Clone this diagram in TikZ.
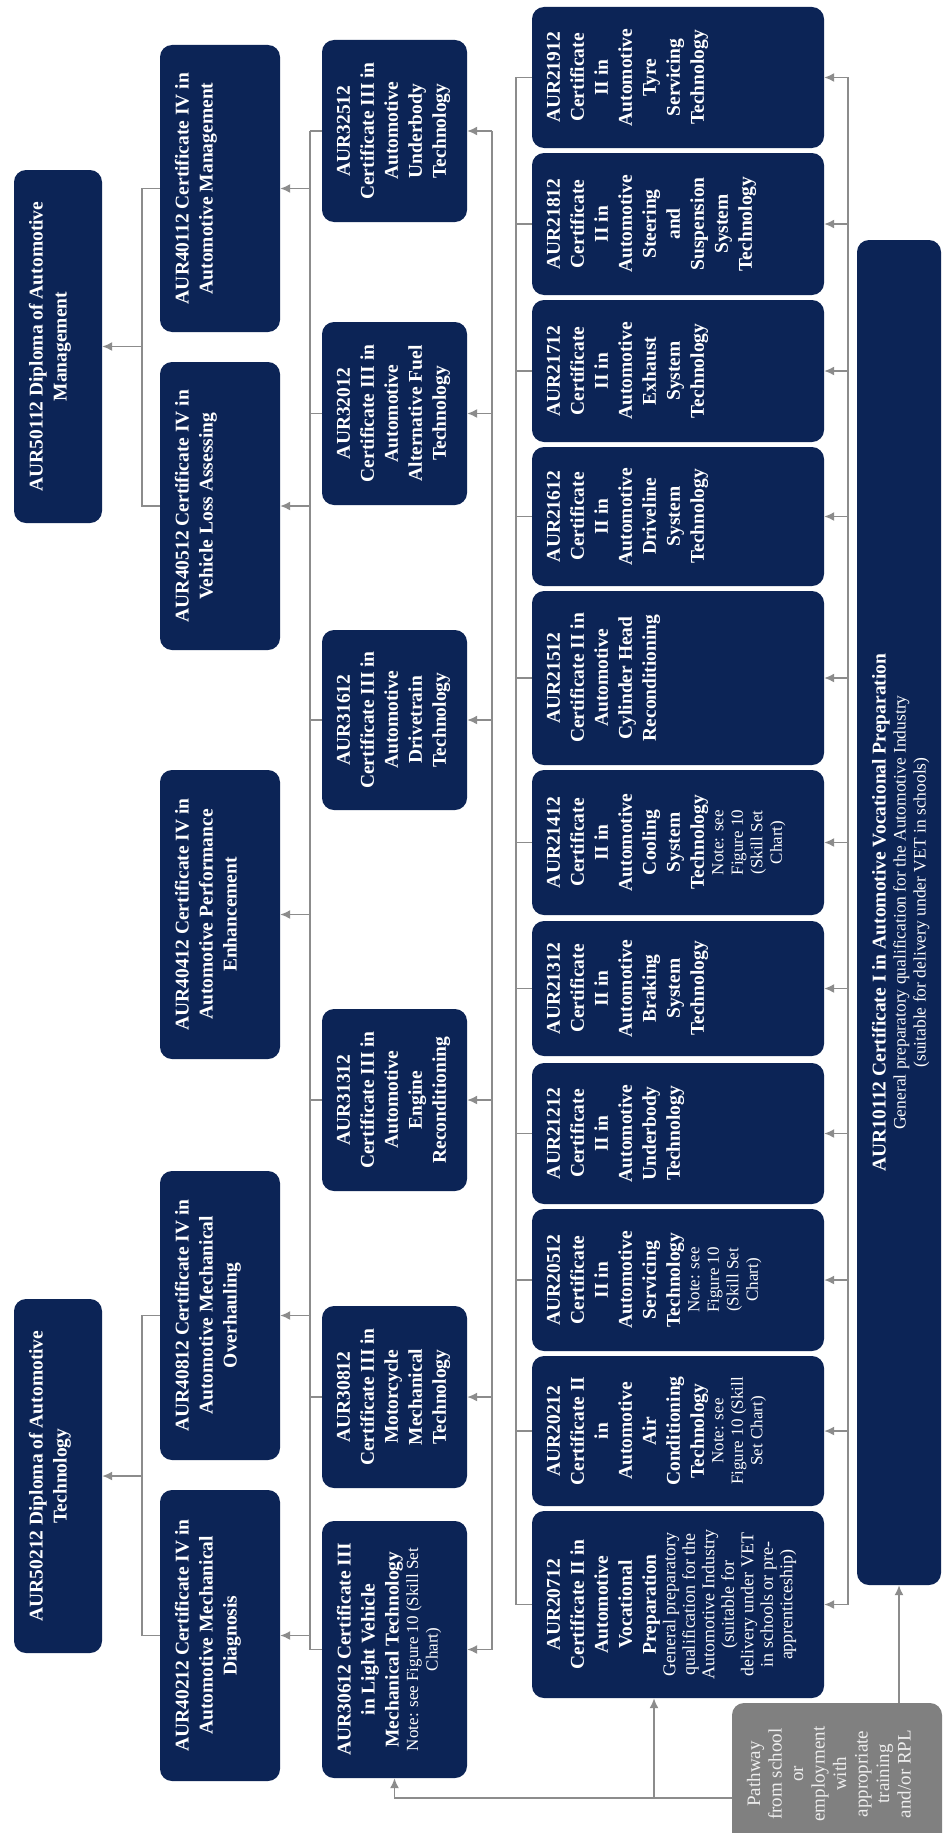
\documentclass[tikz,border=0pt]{standalone}
\usepackage{fontspec}
\setmainfont{Liberation Serif}
\usetikzlibrary{arrows.meta,calc}
\definecolor{navy}{RGB}{12,36,86}
\definecolor{linegrey}{RGB}{140,140,140}
\definecolor{pathgrey}{RGB}{128,128,128}
\definecolor{pathtext}{RGB}{238,238,238}
\newlength\qpad \setlength\qpad{15pt}
\newcommand\qnote{\fontsize{17}{19.5}\selectfont\mdseries}
\tikzset{
  qbox/.style={fill=navy, text=white, rounded corners=12pt, inner sep=0pt,
    font=\fontsize{19.5}{24}\selectfont\bfseries},
  pbox/.style={fill=pathgrey, text=pathtext, rounded corners=12pt, inner sep=0pt,
    font=\fontsize{19}{21.5}\selectfont},
  conn/.style={draw=linegrey, line width=1.6pt},
  arr/.style={conn, -{Latex[length=10pt,width=9pt]}},
}
% #1 style, #2 name, #3 x-left, #4 x-right, #5 y-top, #6 y-bottom, #7 text (image pixel coordinates)
\newcommand\qualnode[7]{%
  \pgfmathsetmacro\qW{#6-#5}%
  \pgfmathsetmacro\qH{#4-#3}%
  \node[#1, rotate=90, minimum width=\qW pt, minimum height=\qH pt] (#2) at ({(#3+#4)/2},{(#5+#6)/2})
    {\begin{minipage}[c][\dimexpr\qH pt-2\qpad\relax][t]{\dimexpr\qW pt-16pt\relax}\centering #7\end{minipage}};%
}
\begin{document}
\begin{tikzpicture}[x=1pt, y=-1pt]
\useasboundingbox (0,0) rectangle (949,1833);
\fill[white] (0,0) rectangle (949,1833);

% Diplomas
\qualnode{qbox}{d50112}{14}{102}{170}{523}{AUR50112 Diploma of Automotive\\Management}
\qualnode{qbox}{d50212}{14}{102}{1299}{1653}{AUR50212 Diploma of Automotive\\Technology}

% Certificate IV
\qualnode{qbox}{c40112}{160}{280}{45}{332}{AUR40112 Certificate IV in\\Automotive Management}
\qualnode{qbox}{c40512}{160}{280}{362}{650}{AUR40512 Certificate IV in\\Vehicle Loss Assessing}
\qualnode{qbox}{c40412}{160}{280}{770}{1059}{AUR40412 Certificate IV in\\Automotive Performance\\Enhancement}
\qualnode{qbox}{c40812}{160}{280}{1171}{1460}{AUR40812 Certificate IV in\\Automotive Mechanical\\Overhauling}
\qualnode{qbox}{c40212}{160}{280}{1490}{1781}{AUR40212 Certificate IV in\\Automotive Mechanical\\Diagnosis}

% Certificate III
\qualnode{qbox}{c32512}{322}{467}{40}{222}{AUR32512\\Certificate III in\\Automotive\\Underbody\\Technology}
\qualnode{qbox}{c32012}{322}{467}{322}{505}{AUR32012\\Certificate III in\\Automotive\\Alternative Fuel\\Technology}
\qualnode{qbox}{c31612}{322}{467}{630}{810}{AUR31612\\Certificate III in\\Automotive\\Drivetrain\\Technology}
\qualnode{qbox}{c31312}{322}{467}{1009}{1191}{AUR31312\\Certificate III in\\Automotive\\Engine\\Reconditioning}
\qualnode{qbox}{c30812}{322}{467}{1306}{1488}{AUR30812\\Certificate III in\\Motorcycle\\Mechanical\\Technology}
\qualnode{qbox}{c30612}{322}{467}{1521}{1778}{AUR30612 Certificate III\\in Light Vehicle\\Mechanical Technology\par{\qnote Note: see Figure 10 (Skill Set\\Chart)\par}}

% Certificate II
\qualnode{qbox}{c21912}{532}{824}{7}{148}{AUR21912\\Certificate\\II in\\Automotive\\Tyre\\Servicing\\Technology}
\qualnode{qbox}{c21812}{532}{824}{153}{295}{AUR21812\\Certificate\\II in\\Automotive\\Steering\\and\\Suspension\\System\\Technology}
\qualnode{qbox}{c21712}{532}{824}{300}{442}{AUR21712\\Certificate\\II in\\Automotive\\Exhaust\\System\\Technology}
\qualnode{qbox}{c21612}{532}{824}{447}{586}{AUR21612\\Certificate\\II in\\Automotive\\Driveline\\System\\Technology}
\qualnode{qbox}{c21512}{532}{824}{591}{765}{AUR21512\\Certificate II in\\Automotive\\Cylinder Head\\Reconditioning}
\qualnode{qbox}{c21412}{532}{824}{770}{915}{AUR21412\\Certificate\\II in\\Automotive\\Cooling\\System\\Technology\par{\qnote Note: see\\Figure 10\\(Skill Set\\Chart)\par}}
\qualnode{qbox}{c21312}{532}{824}{921}{1056}{AUR21312\\Certificate\\II in\\Automotive\\Braking\\System\\Technology}
\qualnode{qbox}{c21212}{532}{824}{1063}{1204}{AUR21212\\Certificate\\II in\\Automotive\\Underbody\\Technology}
\qualnode{qbox}{c20512}{532}{824}{1209}{1351}{AUR20512\\Certificate\\II in\\Automotive\\Servicing\\Technology\par{\qnote Note: see\\Figure 10\\(Skill Set\\Chart)\par}}
\qualnode{qbox}{c20212}{532}{824}{1356}{1506}{AUR20212\\Certificate II\\in\\Automotive\\Air\\Conditioning\\Technology\par{\qnote Note: see\\Figure 10 (Skill\\Set Chart)\par}}
\qualnode{qbox}{c20712}{532}{824}{1511}{1698}{AUR20712\\Certificate II in\\Automotive\\Vocational\\Preparation\par{\fontsize{18}{19.5}\selectfont\mdseries General preparatory\\qualification for the\\Automotive Industry\\(suitable for\\delivery under VET\\in schools or pre-\\apprenticeship)\par}}

% Certificate I
\qualnode{qbox}{cert1}{857}{941}{240}{1585}{AUR10112 Certificate I in Automotive Vocational Preparation\par{\fontsize{17.5}{20}\selectfont\mdseries General preparatory qualification for the Automotive Industry\\(suitable for delivery under VET in schools)\par}}

% Pathway
\qualnode{pbox}{pathway}{732}{942}{1703}{1845}{Pathway\\from school\\or\\employment\\with\\appropriate\\training\\and/or RPL}

% bus positions
\coordinate (bIV) at (142,0);
\coordinate (bIII) at (310,0);
\coordinate (bF) at (492,0);
\coordinate (bII) at (516,0);
\coordinate (bR) at (848,0);

% Cert IV -> Diplomas
\draw[conn] (c40112.north) -- (c40112.north -| bIV) -- (c40512.north -| bIV) -- (c40512.north);
\draw[arr] (d50112.south -| bIV) -- (d50112.south);
\draw[conn] (c40812.north) -- (c40812.north -| bIV) -- (c40212.north -| bIV) -- (c40212.north);
\draw[arr] (d50212.south -| bIV) -- (d50212.south);

% Cert III -> Cert IV
\draw[conn] (c32512.north -| bIII) -- (c30612.north -| bIII);
\foreach \n in {c32512,c32012,c31612,c31312,c30812,c30612}
  \draw[conn] (\n.north) -- (\n.north -| bIII);
\foreach \n in {c40112,c40512,c40412,c40812,c40212}
  \draw[arr] (\n.south -| bIII) -- (\n.south);

% feed into Cert III
\draw[conn] (c32512.south -| bF) -- (c30612.south -| bF);
\foreach \n in {c32512,c32012,c31612,c31312,c30812,c30612}
  \draw[arr] (\n.south -| bF) -- (\n.south);

% Cert II outgoing bus
\draw[conn] (c21912.north -| bII) -- (c20712.north -| bII);
\foreach \n in {c21912,c21812,c21712,c21612,c21512,c21412,c21312,c21212,c20512,c20212,c20712}
  \draw[conn] (\n.north) -- (\n.north -| bII);

% Cert I -> Cert II
\draw[conn] (c21912.south -| bR) -- (c20712.south -| bR);
\foreach \n in {c21912,c21812,c21712,c21612,c21512,c21412,c21312,c21212,c20512,c20212,c20712}
  \draw[arr] (\n.south -| bR) -- (\n.south);

% Pathway connectors
\draw[arr] (cert1.west |- pathway.east) -- (cert1.west);
\coordinate (pL) at ($(c30612.west)+(0,20)$);
\coordinate (pB) at (654,1798);
\draw[arr] (pathway.north |- pL) -- (pL) -- (c30612.west);
\draw[arr] (pB) -- (pB |- c20712.west);
\end{tikzpicture}
\end{document}
